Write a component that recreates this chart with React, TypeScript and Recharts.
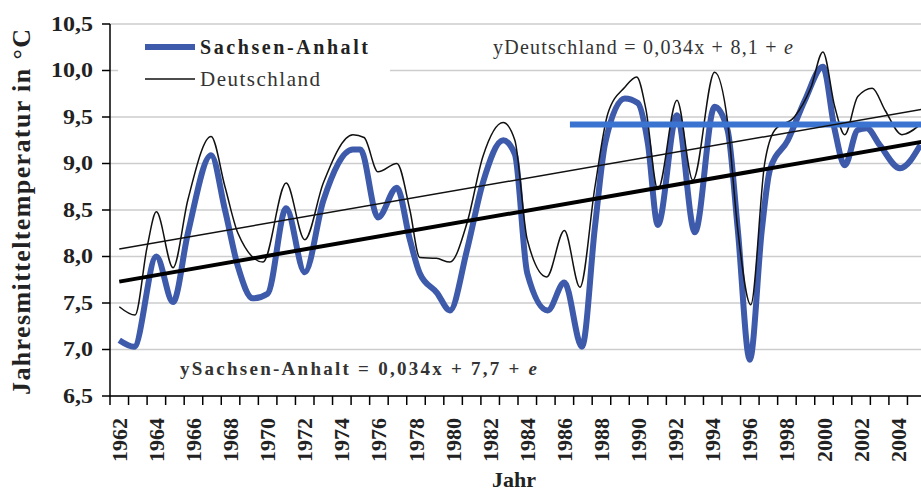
import React from "react";
import { LineChart, Line, XAxis, YAxis, CartesianGrid } from "recharts";

// Sachsen-Anhalt, smoothed annual mean temperature (°C)
const saYears = [
  1962.0, 1962.8, 1964.0, 1964.9, 1965.7, 1966.95, 1967.7, 1968.4, 1969.2, 1970.0,
  1971.0, 1972.0, 1973.0, 1974.6, 1975.0, 1975.95, 1976.97, 1977.67, 1978.2, 1979.13,
  1979.83, 1980.75, 1981.6, 1982.7, 1983.33, 1984.0, 1985.1, 1986.0, 1986.95, 1987.65,
  1988.2, 1989.26, 1989.96, 1990.5, 1991.04, 1992.07, 1993.04, 1994.1, 1994.8, 1995.35,
  1996.0, 1996.65, 1997.08, 1998.05, 1998.97, 1999.94, 2000.58, 2001.12, 2001.82, 2002.3,
  2003.0, 2004.1, 2005.2,
];
const saValues = [
  7.1, 7.03, 8.0, 7.51, 8.25, 9.09, 8.5, 7.89, 7.55, 7.6,
  8.52, 7.83, 8.6, 9.15, 9.15, 8.42, 8.74, 8.18, 7.82, 7.61,
  7.42, 8.07, 8.79, 9.25, 9.1, 7.82, 7.42, 7.72, 7.03, 8.32,
  9.22, 9.7, 9.65, 9.22, 8.34, 9.52, 8.26, 9.61, 9.36, 8.29,
  6.89, 8.29, 8.93, 9.25, 9.68, 10.04, 9.36, 8.98, 9.36, 9.38,
  9.2, 8.95, 9.2,
];

// Deutschland
const deYears = [
  1962.0, 1962.85, 1963.5, 1964.0, 1964.9, 1965.7, 1966.95, 1967.7, 1968.4, 1969.75,
  1971.0, 1972.0, 1973.0, 1974.6, 1975.2, 1975.95, 1976.97, 1977.67, 1978.2, 1979.1,
  1979.83, 1980.75, 1981.6, 1982.7, 1983.33, 1984.0, 1985.05, 1986.0, 1986.84, 1987.65,
  1988.35, 1989.26, 1989.9, 1990.4, 1991.04, 1992.07, 1992.93, 1994.1, 1994.8, 1995.35,
  1996.05, 1996.8, 1997.35, 1998.4, 1999.3, 1999.94, 2000.58, 2001.12, 2001.82, 2002.6,
  2003.3, 2004.2, 2005.2,
];
const deValues = [
  7.46, 7.37, 8.1, 8.48, 7.88, 8.61, 9.29, 8.75, 8.25, 7.94,
  8.79, 8.18, 8.79, 9.31, 9.28, 8.91, 9.0, 8.5, 7.99, 7.98,
  7.94, 8.36, 9.07, 9.44, 9.25, 8.18, 7.78, 8.28, 7.67, 8.75,
  9.54, 9.82, 9.93, 9.58, 8.72, 9.68, 8.82, 9.98, 9.45, 8.29,
  7.48, 9.0, 9.36, 9.5, 9.82, 10.2, 9.61, 9.31, 9.72, 9.81,
  9.57, 9.31, 9.42,
];

// linear trends and the level line
const trendYears = [1962, 2005.5];
const saTrend = [7.73, 9.24];
const deTrend = [8.08, 9.59];
const levelYears = [1986.3, 2005.5];
const levelValues = [9.42, 9.42];

const yTicks = [6.5, 7, 7.5, 8, 8.5, 9, 9.5, 10, 10.5];
const xTicks: number[] = [];
for (let y = 1961.5; y <= 2005.5; y += 0.5) xTicks.push(y);

const toSeries = (xs: number[], vs: number[]) => xs.map((t, i) => ({ t, v: vs[i] }));

const saData = toSeries(saYears, saValues);
const deData = toSeries(deYears, deValues);
const saTrendData = toSeries(trendYears, saTrend);
const deTrendData = toSeries(trendYears, deTrend);
const levelData = toSeries(levelYears, levelValues);

const SERIF = "'Liberation Serif', 'Times New Roman', serif";
const SA_BLUE = "#3d5aab";
const LEVEL_BLUE = "#3b74d0";

const CHART_H = 493;
const X_AXIS_H = 97;
const AXIS_Y = CHART_H - X_AXIS_H;

const XTick = (props: any) => {
  const { x, payload } = props;
  const v = payload.value;
  if (v % 1 !== 0) {
    return <line x1={x} x2={x} y1={AXIS_Y} y2={AXIS_Y + 9} stroke="#000" strokeWidth={1.5} />;
  }
  if (v % 2 !== 0) return <g />;
  return (
    <text
      transform={`translate(${x},${AXIS_Y + 22}) rotate(-90)`}
      textAnchor="end"
      dominantBaseline="central"
      fontSize={22}
      fontWeight="bold"
      fontFamily={SERIF}
      fill="#222"
    >
      {v}
    </text>
  );
};

const YTick = (props: any) => {
  const { x, y, payload } = props;
  return (
    <text
      transform={`translate(${x},${y}) scale(1.2,1)`}
      textAnchor="end"
      dominantBaseline="central"
      fontSize={20}
      fontWeight="bold"
      fontFamily={SERIF}
      fill="#222"
    >
      {payload.value.toFixed(1).replace(".", ",")}
    </text>
  );
};

export default function App() {
  return (
    <div
      style={{
        position: "absolute",
        left: 0,
        top: 0,
        width: 921,
        height: 493,
        overflow: "hidden",
        background: "#fff",
      }}
    >
      <LineChart width={930} height={CHART_H} margin={{ top: 24, right: 4, bottom: 0, left: 0 }}>
        <CartesianGrid vertical={false} stroke="#cdcdcd" strokeWidth={1.5} />
        <XAxis
          type="number"
          dataKey="t"
          domain={[1961.5, 2005.5]}
          ticks={xTicks}
          interval={0}
          tick={<XTick />}
          tickLine={false}
          tickSize={0}
          tickMargin={0}
          height={X_AXIS_H}
          axisLine={{ stroke: "#000", strokeWidth: 1.5 }}
          allowDataOverflow
        />
        <YAxis
          type="number"
          domain={[6.5, 10.5]}
          ticks={yTicks}
          interval={0}
          width={110}
          tickSize={8}
          tickMargin={9}
          tick={<YTick />}
          tickLine={{ stroke: "#000", strokeWidth: 1.5 }}
          axisLine={{ stroke: "#000", strokeWidth: 1.5 }}
        />
        <Line
          data={saData}
          dataKey="v"
          type="monotone"
          stroke={SA_BLUE}
          strokeWidth={6}
          dot={false}
          isAnimationActive={false}
        />
        <Line
          data={deData}
          dataKey="v"
          type="monotone"
          stroke="#111"
          strokeWidth={1.5}
          dot={false}
          isAnimationActive={false}
        />
        <Line
          data={levelData}
          dataKey="v"
          type="linear"
          stroke={LEVEL_BLUE}
          strokeWidth={6}
          dot={false}
          isAnimationActive={false}
        />
        <Line
          data={deTrendData}
          dataKey="v"
          type="linear"
          stroke="#111"
          strokeWidth={1.5}
          dot={false}
          isAnimationActive={false}
        />
        <Line
          data={saTrendData}
          dataKey="v"
          type="linear"
          stroke="#000"
          strokeWidth={4}
          dot={false}
          isAnimationActive={false}
        />
      </LineChart>
      <svg
        width={921}
        height={493}
        style={{ position: "absolute", left: 0, top: 0, pointerEvents: "none" }}
        fontFamily={SERIF}
      >
        <rect x={118} y={30} width={272} height={66} fill="#fff" />
        <line x1={145} x2={195} y1={47} y2={47} stroke={SA_BLUE} strokeWidth={6} />
        <text x={200} y={47} dominantBaseline="central" fontSize={20} fontWeight="bold" fill="#222" textLength={168} lengthAdjust="spacing">
          Sachsen-Anhalt
        </text>
        <line x1={145} x2={195} y1={79} y2={79} stroke="#111" strokeWidth={1.5} />
        <text x={200} y={79} dominantBaseline="central" fontSize={21} fill="#333" textLength={120} lengthAdjust="spacing">
          Deutschland
        </text>
        <text x={493} y={47} dominantBaseline="central" fontSize={20} fill="#333" textLength={300} lengthAdjust="spacing">
          yDeutschland = 0,034x + 8,1 + <tspan fontStyle="italic">e</tspan>
        </text>
        <text x={180} y={368} dominantBaseline="central" fontSize={19} fontWeight="bold" fill="#333" textLength={357} lengthAdjust="spacing">
          ySachsen-Anhalt = 0,034x + 7,7 + <tspan fontStyle="italic">e</tspan>
        </text>
        <text
          transform="translate(21,212) rotate(-90)"
          textAnchor="middle"
          dominantBaseline="central"
          fontSize={26}
          fontWeight="bold"
          fill="#222"
          textLength={366}
          lengthAdjust="spacing"
        >
          Jahresmitteltemperatur in °C
        </text>
        <text x={514} y={487} textAnchor="middle" fontSize={22} fontWeight="bold" fill="#222">
          Jahr
        </text>
      </svg>
    </div>
  );
}
